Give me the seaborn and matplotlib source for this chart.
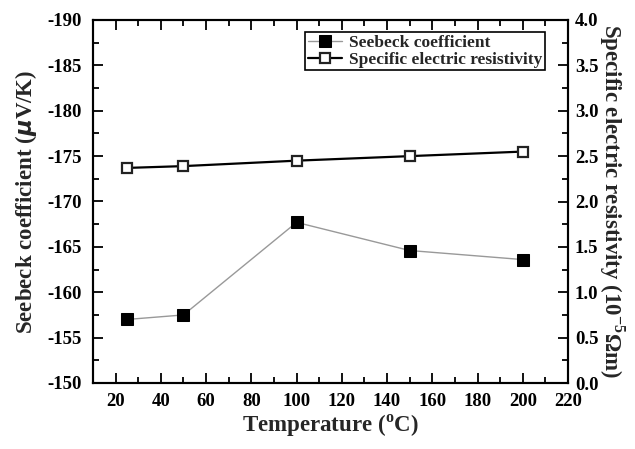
import numpy as np
import pandas as pd
import matplotlib
matplotlib.use("Agg")
import matplotlib.pyplot as plt
import seaborn as sns
from matplotlib.ticker import MultipleLocator

temperature = [25, 50, 100, 150, 200]
seebeck = [-157.0, -157.5, -167.7, -164.6, -163.6]
resistivity = [2.37, 2.39, 2.45, 2.50, 2.55]

x_ticks = list(range(20, 221, 20))

sns.set_theme(style="ticks")
plt.rcParams["font.family"] = ["Liberation Serif", "DejaVu Serif"]
plt.rcParams["font.weight"] = "bold"
plt.rcParams["axes.unicode_minus"] = False
plt.rcParams["mathtext.fontset"] = "custom"
plt.rcParams["mathtext.rm"] = "Liberation Serif:bold"
plt.rcParams["mathtext.bf"] = "Liberation Serif:bold"

df = pd.DataFrame({"T": temperature, "S": seebeck, "R": resistivity})

fig = plt.figure(figsize=(6.35, 4.49), dpi=100)
ax = fig.add_axes([93/635, 1 - 383/449, (568-93)/635, (383-20)/449])
ax2 = ax.twinx()

sns.lineplot(data=df, x="T", y="S", ax=ax, color="#999999", lw=1.0,
             marker="s", markersize=8, markerfacecolor="black",
             markeredgecolor="black", label="Seebeck coefficient", legend=False)
sns.lineplot(data=df, x="T", y="R", ax=ax2, color="black", lw=1.6,
             marker="s", markersize=7.5, markerfacecolor="white",
             markeredgecolor="#222222", markeredgewidth=1.6,
             label="Specific electric resistivity", legend=False)

ax.set_xlim(10, 220)
ax.set_ylim(-150, -190)
ax2.set_ylim(0, 4.0)
ax.set_xticks(x_ticks)
ax.xaxis.set_minor_locator(MultipleLocator(10))
ax.set_yticks(np.arange(-190, -149, 5))
ax.yaxis.set_minor_locator(MultipleLocator(2.5))
ax2.set_yticks(np.arange(0, 4.01, 0.5))
ax2.yaxis.set_minor_locator(MultipleLocator(0.25))
ax2.set_yticklabels([f"{v:.1f}" for v in np.arange(0, 4.01, 0.5)])

for a in (ax, ax2):
    for s in a.spines.values():
        s.set_linewidth(1.5)
        s.set_color("black")
    a.tick_params(which="both", direction="in", width=1.3, colors="black",
                  labelsize=13.5, pad=6)
    a.tick_params(which="major", length=7)
    a.tick_params(which="minor", length=4)
ax.tick_params(axis="x", which="both", top=True, pad=7)
ax.tick_params(axis="y", which="both", right=False, pad=8)
ax2.tick_params(axis="y", which="both", left=False, pad=5)
for lab in ax.get_xticklabels() + ax.get_yticklabels() + ax2.get_yticklabels():
    lab.set_fontweight("bold")

ax.set_xlabel("Temperature ($^{\\rm o}$C)", fontsize=16.5, fontweight="bold", labelpad=2)
ax.set_ylabel("Seebeck coefficient ($\\mu$V/K)", fontsize=16.5, fontweight="bold", labelpad=6)
ax2.set_ylabel("Specific electric resistivity (10$^{-5}$$\\Omega$m)", fontsize=16.5,
               fontweight="bold", rotation=270, labelpad=20)

h1, l1 = ax.get_legend_handles_labels()
h2, l2 = ax2.get_legend_handles_labels()
leg = ax2.legend(h1 + h2, l1 + l2, loc="upper left",
                 bbox_to_anchor=((305-93)/475, (383-32)/363),
                 fancybox=False, edgecolor="black", framealpha=1,
                 prop={"family": "Liberation Serif", "weight": "bold", "size": 12.5},
                 handlelength=2.0, handletextpad=0.4, borderpad=0.15, labelspacing=0.05,
                 borderaxespad=0.0, markerscale=1.0)
leg.get_frame().set_linewidth(1.2)

fig.savefig("out.png", dpi=100)
